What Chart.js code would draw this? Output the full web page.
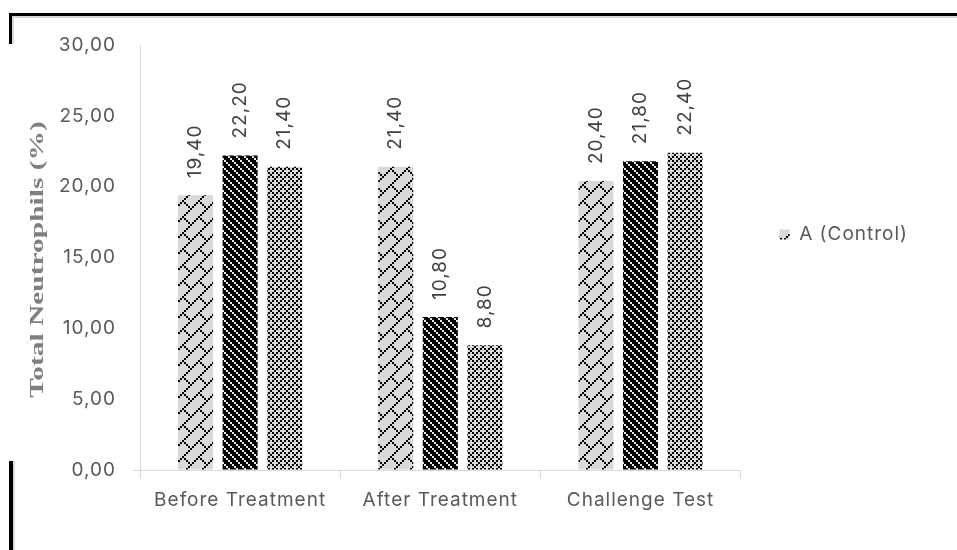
<!DOCTYPE html>
<html>
<head>
<meta charset="utf-8">
<script src="https://cdn.jsdelivr.net/npm/chart.js@4.4.1/dist/chart.umd.min.js"></script>
<style>
  html, body { margin: 0; padding: 0; background: #ffffff; }
  #wrap { position: relative; width: 957px; height: 550px; overflow: hidden; background: #ffffff; }
  #c { position: absolute; left: 0; top: 0; }
  .edge { position: absolute; }
</style>
</head>
<body>
<div id="wrap">
  <canvas id="c" width="957" height="550"></canvas>
  <!-- frame fragments around the chart -->
  <div class="edge" style="left:9px;top:13px;width:948px;height:3px;background:#000"></div>
  <div class="edge" style="left:12px;top:16px;width:945px;height:2px;background:#d9d9d9"></div>
  <div class="edge" style="left:9px;top:13px;width:3px;height:31px;background:#000"></div>
  <div class="edge" style="left:12px;top:16px;width:2px;height:28px;background:#d9d9d9"></div>
  <div class="edge" style="left:9px;top:461px;width:4px;height:89px;background:#000"></div>
  <div class="edge" style="left:13px;top:461px;width:2px;height:89px;background:#d9d9d9"></div>
</div>
<script>
// ---- data ----
const categories = ['Before Treatment', 'After Treatment', 'Challenge Test'];
const seriesNames = ['A (Control)', 'B', 'C'];
const seriesA = [19.40, 21.40, 20.40];
const seriesB = [22.20, 10.80, 21.80];
const seriesC = [21.40, 8.80, 22.40];
const yMin = 0;
const yMax = 30;
const yStep = 5;
const yTitle = 'Total Neutrophils (%)';

// decimal comma, two places
const fmt = v => v.toFixed(2).replace('.', ',');

// ---- fill patterns built from small bitmaps ----
const canvas = document.getElementById('c');
const mainCtx = canvas.getContext('2d');
function bitmapPattern(rows, scale, on, off) {
  const n = rows.length;
  const tile = document.createElement('canvas');
  tile.width = tile.height = n * scale;
  const g = tile.getContext('2d');
  g.fillStyle = off;
  g.fillRect(0, 0, tile.width, tile.height);
  g.fillStyle = on;
  rows.forEach((r, y) => {
    for (let x = 0; x < r.length; x++) {
      if (r[x] === 'X') g.fillRect(x * scale, y * scale, scale, scale);
    }
  });
  return mainCtx.createPattern(tile, 'repeat');
}
// diagonal brick on light grey
const brick = bitmapPattern([
  '.......X',
  '......X.',
  '.....X..',
  '....X...',
  '...X....',
  '..X.X...',
  '.X...X..',
  'X.....X.'
], 2, '#000000', '#d9d9d9');
// dotted light stripes on black
const stripes = bitmapPattern([
  'X...',
  '.X..',
  '..X.',
  '...X'
], 2, '#e8e8e8', '#000000');
// dotted crosses on light grey
const dots = bitmapPattern([
  'X.X.',
  '.X..',
  'X.X.',
  '...X'
], 2, '#000000', '#d9d9d9');

// slightly open tracking for all chart text (set after any canvas reset)
const tracking = {
  id: 'tracking',
  beforeUpdate(chart) { chart.ctx.letterSpacing = '1px'; },
  beforeDraw(chart) { chart.ctx.letterSpacing = '1px'; }
};

// ---- value labels, rotated, above each bar ----
const valueLabels = {
  id: 'valueLabels',
  afterDatasetsDraw(chart) {
    const { ctx } = chart;
    ctx.save();
    ctx.font = '19px Inter';
    ctx.fillStyle = '#404040';
    ctx.textAlign = 'left';
    ctx.textBaseline = 'middle';
    chart.data.datasets.forEach((ds, i) => {
      chart.getDatasetMeta(i).data.forEach((bar, j) => {
        ctx.save();
        ctx.translate(bar.x, bar.y - 17);
        ctx.rotate(-Math.PI / 2);
        ctx.fillText(fmt(ds.data[j]), 0, 0);
        ctx.restore();
      });
    });
    ctx.restore();
  }
};

// ---- vertical axis title, drawn elongated along its baseline ----
const axisTitle = {
  id: 'axisTitle',
  afterDraw(chart) {
    const { ctx, chartArea } = chart;
    ctx.save();
    ctx.letterSpacing = '0px';
    ctx.translate(chart.scales.y.left + 38, (chartArea.top + chartArea.bottom) / 2 + 2);
    ctx.rotate(-Math.PI / 2);
    ctx.scale(1.55, 1);
    ctx.font = 'bold 19px "Liberation Serif"';
    ctx.fillStyle = '#7f7f7f';
    ctx.textAlign = 'center';
    ctx.textBaseline = 'middle';
    ctx.fillText(yTitle, 0, 0);
    ctx.restore();
  }
};

const axisGrey = '#d9d9d9';
const tickFont = { family: 'Inter', size: 19 };

new Chart(canvas, {
  type: 'bar',
  data: {
    labels: categories,
    datasets: [
      { label: seriesNames[0], data: seriesA, backgroundColor: brick },
      { label: seriesNames[1], data: seriesB, backgroundColor: stripes },
      { label: seriesNames[2], data: seriesC, backgroundColor: dots }
    ]
  },
  options: {
    responsive: false,
    animation: false,
    devicePixelRatio: 1,
    datasets: { bar: { categoryPercentage: 0.6675, barPercentage: 0.786, borderWidth: 0 } },
    layout: { padding: { top: 45, right: 39, bottom: 0, left: 0 } },
    plugins: {
      tooltip: { enabled: false },
      legend: {
        position: 'right',
        align: 'start',
        title: { display: true, text: '', font: { size: 10 }, padding: { top: 129, bottom: 0 } },
        labels: {
          font: tickFont,
          color: '#595959',
          boxWidth: 10,
          boxHeight: 10,
          padding: 39,
          filter: item => item.datasetIndex === 0
        }
      }
    },
    scales: {
      x: {
        afterFit: s => { s.height = 80; },
        border: { display: true, color: axisGrey, width: 1 },
        grid: { drawOnChartArea: false, drawTicks: true, tickLength: 8, tickColor: axisGrey, offset: true },
        ticks: { font: tickFont, color: '#595959', padding: 11 }
      },
      y: {
        min: yMin,
        max: yMax,
        afterFit: s => { s.width = 140; },
        border: { display: true, color: axisGrey, width: 1 },
        grid: {
          drawOnChartArea: false,
          drawTicks: true,
          tickLength: 7,
          tickColor: c => (c.tick && c.tick.value === 0) ? axisGrey : 'rgba(0,0,0,0)'
        },
        ticks: { stepSize: yStep, font: tickFont, color: '#595959', padding: 17, callback: v => fmt(v) }
      }
    }
  },
  plugins: [tracking, valueLabels, axisTitle]
});
</script>
</body>
</html>
